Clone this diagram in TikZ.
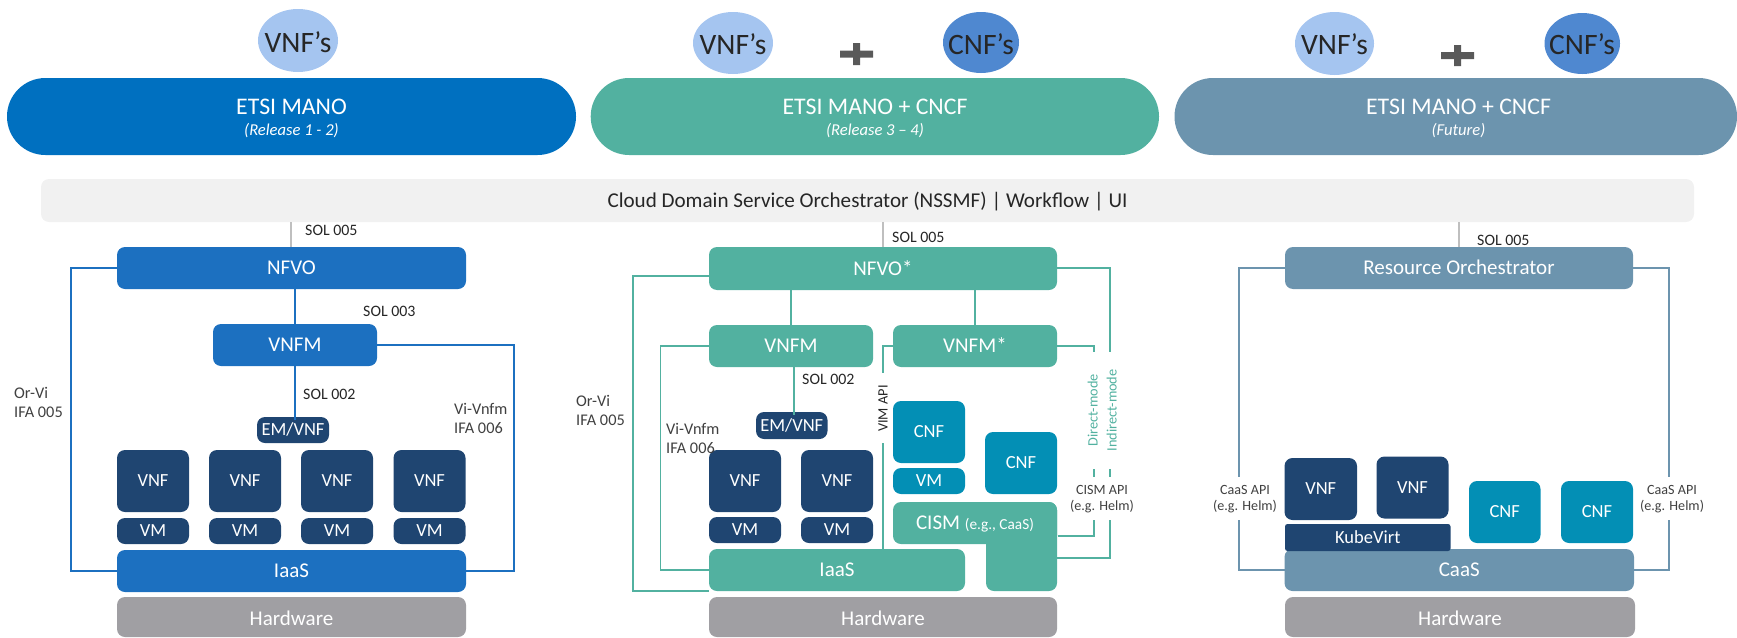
\documentclass[tikz,border=0pt]{standalone}
\usepackage{fontspec}
\setmainfont{Carlito}
\usetikzlibrary{shapes.geometric}
\definecolor{cPillA}{HTML}{0070C0}
\definecolor{cBlue}{HTML}{1C70C0}
\definecolor{cGreen}{HTML}{52B1A0}
\definecolor{cSlate}{HTML}{6C94AE}
\definecolor{cNavy}{HTML}{1F4571}
\definecolor{cTeal}{HTML}{038FB5}
\definecolor{cGrey}{HTML}{A09FA3}
\definecolor{cBar}{HTML}{F1F1F1}
\definecolor{cEllA}{HTML}{A5C5F0}
\definecolor{cEllB}{HTML}{4F88D0}
\definecolor{cPlus}{HTML}{595959}
\definecolor{cTxt}{HTML}{262626}
\definecolor{cLab}{HTML}{404040}
\definecolor{cSol}{HTML}{BFBFBF}
\newcommand\bx[7]{%
  \pgfmathsetmacro\bxW{#4-(#2)}\pgfmathsetmacro\bxH{#5-(#3)}%
  \pgfmathsetmacro\bxX{(#2+#4)/2}\pgfmathsetmacro\bxY{(#3+#5)/2}%
  \node[#6,minimum width=\bxW pt,minimum height=\bxH pt] (#1) at (\bxX,\bxY) {#7};}
\tikzset{
  x=1pt,y=-1pt,
  shp/.style={inner sep=0pt,outer sep=0pt,draw=none,rounded corners=8pt,text=white,align=center},
  ftwenty/.style={font=\fontsize{21}{25}\selectfont,text height=13.5pt,text depth=0pt},
  fsmall/.style={font=\fontsize{18.5}{22}\selectfont,text height=11.9pt,text depth=0pt},
  mgr/.style={shp,ftwenty},
  blueb/.style={mgr,fill=cBlue},
  greenb/.style={mgr,fill=cGreen},
  slateb/.style={mgr,fill=cSlate},
  greyb/.style={mgr,fill=cGrey,text height=16.5pt},
  navyb/.style={shp,fsmall,fill=cNavy},
  tealb/.style={shp,fsmall,fill=cTeal},
  pillA/.style={shp,rounded corners=38.4pt,fill=cPillA},
  pillB/.style={shp,rounded corners=38.4pt,fill=cGreen},
  pillC/.style={shp,rounded corners=38.4pt,fill=cSlate},
  pilltitle/.style={text=white,inner sep=0pt,font=\fontsize{23.8}{28}\selectfont,text height=15.3pt,text depth=0pt},
  pillsub/.style={text=white,inner sep=0pt,font=\fontsize{16.6}{20}\selectfont\itshape,text height=10.7pt,text depth=0pt},
  ellA/.style={ellipse,inner sep=0pt,outer sep=0pt,fill=cEllA},
  ellB/.style={ellipse,inner sep=0pt,outer sep=0pt,fill=cEllB},
  elltxt/.style={text=cTxt,inner sep=0pt,font=\fontsize{29.6}{34}\selectfont,text height=19pt,text depth=0pt},
  sollab/.style={text=cTxt,inner sep=0pt,anchor=west,font=\fontsize{15.9}{19}\selectfont,text height=10.2pt,text depth=0pt},
  twolab/.style={text=cLab,inner sep=0pt,anchor=west,align=left,font=\fontsize{16.3}{19}\selectfont},
  apilab/.style={text=cLab,inner sep=0pt,align=center,font=\fontsize{14.1}{16}\selectfont},
  vlab/.style={inner sep=0pt,rotate=90,font=\fontsize{14.3}{16}\selectfont,text height=9.2pt,text depth=0pt},
  wblue/.style={draw=cBlue,line width=1.7pt},
  wgreen/.style={draw=cGreen,line width=1.7pt},
  wslate/.style={draw=cSlate,line width=1.7pt},
  wsol/.style={draw=cSol,line width=1.7pt},
}
\begin{document}
\begin{tikzpicture}
\useasboundingbox (0,0) rectangle (1737,637);
% ---------- header
\bx{pa}{7}{78}{576}{155}{pillA}{}
\bx{pb}{590.7}{78}{1159}{155}{pillB}{}
\bx{pc}{1174.5}{78}{1737}{155}{pillC}{}
\node[pilltitle] (pat) at (291.5,107) {ETSI MANO};
\node[pillsub]   (pas) at (291.5,130) {(Release 1 - 2)};
\node[pilltitle] (pbt) at (875,107) {ETSI MANO + CNCF};
\node[pillsub]   (pbs) at (875,130) {(Release 3 – 4)};
\node[pilltitle] (pct) at (1458.5,107) {ETSI MANO + CNCF};
\node[pillsub]   (pcs) at (1458.5,130) {(Future)};
\bx{ea}{258}{9}{338}{72}{ellA}{}
\bx{eb}{693}{12}{773}{74}{ellA}{}
\bx{ec}{943}{12}{1019}{73}{ellB}{}
\bx{ed}{1295}{12}{1374}{75}{ellA}{}
\bx{ee}{1544.5}{13}{1620}{74}{ellB}{}
\node[elltxt] (eat) at (298,43) {VNF’s};
\node[elltxt] (ebt) at (733,45) {VNF’s};
\node[elltxt] (ect) at (981,45) {CNF’s};
\node[elltxt] (edt) at (1334.5,45) {VNF’s};
\node[elltxt] (eet) at (1582,45) {CNF’s};
\fill[cPlus] (840,50.5) rectangle (873,57.5) (853,43) rectangle (860,65);
\fill[cPlus] (1441,52) rectangle (1474,59) (1454,45) rectangle (1461,66);
\bx{bar}{41}{179}{1694}{222}{shp,fill=cBar,text=cTxt,font=\fontsize{21.1}{25}\selectfont,text height=13.6pt,text depth=0pt}{Cloud Domain Service Orchestrator (NSSMF) | Workflow | UI}
% ---------- column 1
\bx{nfvoa}{117}{247}{466}{289}{blueb}{NFVO}
\bx{vnfma}{213}{324}{377}{366}{blueb}{VNFM}
\bx{emvnfa}{257}{417}{329}{443}{navyb}{EM/VNF}
\bx{vnfaa}{117}{450}{189}{512}{navyb}{VNF}
\bx{vnfab}{209}{450}{281}{512}{navyb}{VNF}
\bx{vnfac}{301}{450}{373}{512}{navyb}{VNF}
\bx{vnfad}{393.5}{450}{465.5}{512}{navyb}{VNF}
\bx{vmaa}{117}{518}{189}{544}{navyb}{VM}
\bx{vmab}{209}{518}{281}{544}{navyb}{VM}
\bx{vmac}{301}{518}{373}{544}{navyb}{VM}
\bx{vmad}{393.5}{518}{465.5}{544}{navyb}{VM}
\bx{iaasa}{117}{550}{466}{592}{blueb}{IaaS}
\bx{hwa}{117}{597}{466}{637}{greyb}{Hardware}
\coordinate (sola) at (291,222);
\draw[wsol] (sola) -- (sola |- nfvoa.north);
\draw[wblue] (vnfma.north) -- (vnfma.north |- nfvoa.south);
\draw[wblue] (vnfma.south) -- ([yshift=-3pt]vnfma.south |- emvnfa.north);
\draw[wblue] (nfvoa.west) -- ++(-46,0) |- (iaasa.west);
\draw[wblue] (vnfma.east) -- ++(137,0) |- (iaasa.east);
\node[sollab] (lsola) at (305,230) {SOL 005};
\node[sollab] (lsolb) at (363,311) {SOL 003};
\node[sollab] (lsolc) at (303,394) {SOL 002};
\node[twolab] (lora) at (14,402.5) {Or-Vi\\IFA 005};
\node[twolab] (lvia) at (454,418.5) {Vi-Vnfm\\IFA 006};
% ---------- column 2
\bx{nfvob}{709}{247}{1057}{290}{greenb}{NFVO*}
\bx{vnfmb}{709}{325}{873}{367}{greenb}{VNFM}
\bx{vnfmc}{893}{325}{1057}{367}{greenb}{VNFM*}
\bx{emvnfb}{756}{412}{827.5}{439}{navyb}{EM/VNF}
\bx{vnfba}{709}{450}{781}{512}{navyb}{VNF}
\bx{vnfbb}{801}{450}{873}{512}{navyb}{VNF}
\bx{vmba}{709}{517}{781}{543}{navyb}{VM}
\bx{vmbb}{801}{517}{873}{543}{navyb}{VM}
\bx{cnfba}{893}{401}{965}{463}{tealb}{CNF}
\bx{vmbc}{893}{468}{965}{494}{tealb}{VM}
\bx{cnfbb}{985}{432}{1057}{494}{tealb}{CNF}
\bx{iaasb}{709}{549}{965}{591}{greenb}{IaaS}
\bx{cismb}{986}{502}{1057}{591}{shp,fill=cGreen}{}
\bx{cisma}{893}{502}{1057}{544}{greenb}{CISM {\fontsize{15.3}{18}\selectfont(e.g., CaaS)}}
\bx{hwb}{709}{597}{1057}{637}{greyb}{Hardware}
\coordinate (solb) at (883,222);
\draw[wsol] (solb) -- (solb |- nfvob.north);
\draw[wgreen] (vnfmb.north) -- (vnfmb.north |- nfvob.south);
\draw[wgreen] (vnfmc.north) -- (vnfmc.north |- nfvob.south);
\draw[wgreen] ([xshift=3pt]vnfmb.south) -- ([xshift=3pt,yshift=-3pt]vnfmb.south |- emvnfb.north);
\coordinate (orb) at (709,276);
\coordinate (orc) at (709,591);
\draw[wgreen] (orb) -- ++(-76,0) |- (orc);
\coordinate (vib) at (660.5,0);
\coordinate (vic) at (709,570);
\draw[wgreen] (vnfmb.west) -| (vib |- vic) -- (vic);
\coordinate (vimd) at (883,373);
\coordinate (vime) at (883,443);
\draw[wgreen] (vnfmc.west) -| (vimd);
\draw[wgreen] (vime) -- (vime |- iaasb.north);
\node[vlab,text=cTxt] (lvim) at (883,408.5) {VIM API};
\coordinate (indt) at (1110,352);
\coordinate (dirt) at (1094,352);
\coordinate (inma) at (1110,469);
\coordinate (inmb) at (1110,477);
\coordinate (inmc) at (1110,520);
\coordinate (dima) at (1094,469);
\coordinate (dimb) at (1094,477);
\coordinate (dimc) at (1094,520);
\coordinate (cismi) at (1057,558);
\coordinate (cismd) at (1058,536);
\coordinate (nfr) at (1057,268);
\draw[wgreen] (nfr) -| (indt);
\draw[wgreen] (vnfmc.east) -| (dirt);
\draw[wgreen] (inma) -- (inmb);
\draw[wgreen] (dima) -- (dimb);
\draw[wgreen] (inmc) |- (cismi);
\draw[wgreen] (dimc) |- (cismd);
\node[vlab,text=cGreen] (ldir) at (1093,410.5) {Direct-mode};
\node[vlab,text=cGreen] (lind) at (1112,410.5) {Indirect-mode};
\node[apilab] (lcism) at (1102,499) {CISM API\\(e.g. Helm)};
\node[sollab] (lsold) at (892,237) {SOL 005};
\node[sollab] (lsole) at (802,379) {SOL 002};
\node[twolab] (lorb) at (576,410) {Or-Vi\\IFA 005};
\node[twolab] (lvib) at (666,438) {Vi-Vnfm\\IFA 006};
% ---------- column 3
\bx{ro}{1285}{247}{1633}{289}{slateb}{Resource Orchestrator}
\bx{caas}{1284.5}{549}{1634}{591}{slateb}{CaaS}
\bx{kube}{1285}{524}{1450.5}{551}{navyb,rounded corners=2.5pt}{KubeVirt}
\bx{vnfca}{1284.5}{458}{1357}{520}{navyb}{VNF}
\bx{vnfcb}{1376.5}{456.5}{1448.5}{518.5}{navyb}{VNF}
\bx{cnfca}{1469}{481}{1540.5}{543}{tealb}{CNF}
\bx{cnfcb}{1561}{481}{1633}{543}{tealb}{CNF}
\bx{hwc}{1285}{597}{1635}{637}{greyb}{Hardware}
\coordinate (solc) at (1459,222);
\draw[wsol] (solc) -- (solc |- ro.north);
\coordinate (cla) at (1239,477);
\coordinate (clb) at (1239,520);
\coordinate (cra) at (1669,477);
\coordinate (crb) at (1669,520);
\draw[wslate] (ro.west) -| (cla);
\draw[wslate] (clb) |- (caas.west);
\draw[wslate] (ro.east) -| (cra);
\draw[wslate] (crb) |- (caas.east);
\node[sollab] (lsolf) at (1477,240) {SOL 005};
\node[apilab] (lcaa) at (1245,499) {CaaS API\\(e.g. Helm)};
\node[apilab] (lcab) at (1672,499) {CaaS API\\(e.g. Helm)};
\end{tikzpicture}
\end{document}
